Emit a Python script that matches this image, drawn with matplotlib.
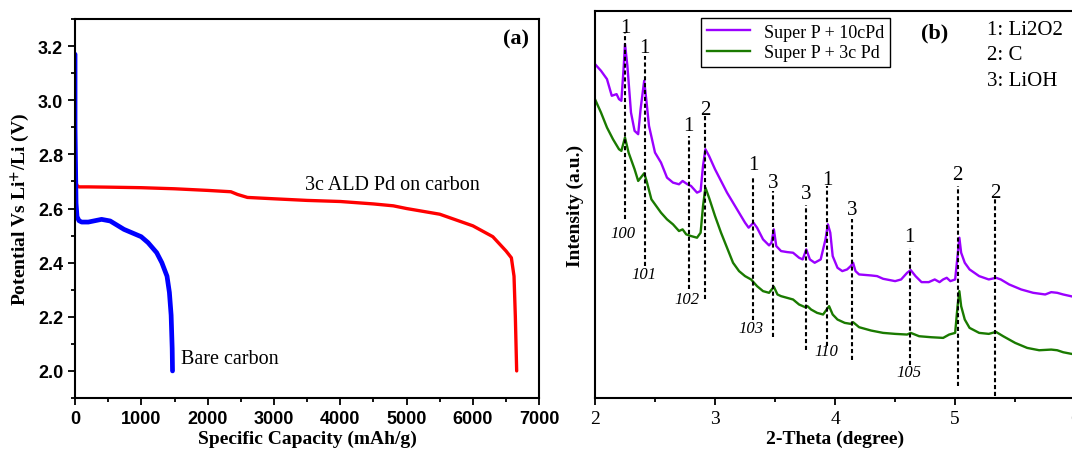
import matplotlib.pyplot as plt
from matplotlib.ticker import MultipleLocator, NullLocator

plt.rcParams['font.family'] = 'Liberation Serif'
plt.rcParams['mathtext.fontset'] = 'stix'

# ---- panel (a): discharge curves ----
pd_cap = [0, 0, 10, 30, 60, 200, 500, 1000, 1500, 2000, 2350, 2450, 2600, 3000,
          3500, 4000, 4500, 4800, 5000, 5500, 6000, 6300, 6500, 6580, 6620, 6640,
          6650, 6660]
pd_volt = [3.02, 2.85, 2.70, 2.685, 2.68, 2.68, 2.679, 2.677, 2.673, 2.667, 2.662,
           2.652, 2.641, 2.636, 2.63, 2.626, 2.617, 2.61, 2.6, 2.579, 2.536, 2.496,
           2.443, 2.418, 2.35, 2.2, 2.1, 2.0]

bare_cap = [0, 0, 15, 30, 60, 100, 200, 300, 400, 530, 738, 997, 1101, 1231, 1309,
            1387, 1423, 1449, 1465, 1470]
bare_volt = [3.17, 2.9, 2.62, 2.57, 2.555, 2.55, 2.55, 2.555, 2.56, 2.554, 2.523,
             2.496, 2.474, 2.437, 2.4, 2.35, 2.29, 2.206, 2.083, 2.0]

# ---- panel (b): XRD ----
theta = [2.00, 2.05, 2.10, 2.14, 2.18, 2.20, 2.22, 2.24, 2.25, 2.27, 2.30, 2.33, 2.36,
         2.38, 2.41, 2.43, 2.45, 2.50, 2.55, 2.60, 2.65, 2.70, 2.73, 2.77, 2.80, 2.85,
         2.88, 2.90, 2.92, 2.95, 3.00, 3.05, 3.10, 3.15, 3.20, 3.25, 3.28, 3.32, 3.35,
         3.40, 3.45, 3.47, 3.49, 3.51, 3.55, 3.60, 3.65, 3.70, 3.73, 3.76, 3.79, 3.83,
         3.88, 3.92, 3.94, 3.96, 3.98, 4.02, 4.06, 4.10, 4.13, 4.15, 4.17, 4.20, 4.30,
         4.35, 4.40, 4.50, 4.55, 4.60, 4.63, 4.67, 4.72, 4.78, 4.83, 4.87, 4.90, 4.93,
         4.96, 5.00, 5.02, 5.035, 5.05, 5.08, 5.12, 5.20, 5.28, 5.34, 5.38, 5.45, 5.55,
         5.65, 5.75, 5.80, 5.85, 5.90, 6.00]
pd10 = [1000, 980, 955, 905, 910, 895, 890, 995, 1060, 995, 855, 800, 790, 865, 950,
        885, 815, 735, 705, 660, 645, 640, 650, 640, 635, 615, 620, 695, 745, 725, 685,
        650, 615, 585, 555, 525, 510, 525, 510, 475, 457, 465, 505, 455, 440, 437, 435,
        420, 415, 445, 415, 405, 415, 475, 520, 495, 425, 390, 380, 385, 395, 405, 380,
        370, 367, 365, 357, 350, 355, 375, 383, 365, 347, 347, 355, 347, 355, 360, 350,
        355, 425, 480, 435, 405, 385, 365, 355, 360, 355, 340, 325, 315, 310, 317, 315,
        310, 302]

theta3 = [2.00, 2.05, 2.10, 2.15, 2.20, 2.22, 2.25, 2.28, 2.33, 2.36, 2.41, 2.43, 2.47,
          2.50, 2.55, 2.60, 2.65, 2.70, 2.73, 2.76, 2.80, 2.85, 2.88, 2.90, 2.92, 2.95,
          3.00, 3.05, 3.10, 3.15, 3.20, 3.25, 3.30, 3.35, 3.40, 3.45, 3.49, 3.52, 3.55,
          3.60, 3.65, 3.70, 3.75, 3.77, 3.80, 3.85, 3.90, 3.92, 3.95, 3.98, 4.02, 4.08,
          4.13, 4.15, 4.20, 4.30, 4.40, 4.50, 4.60, 4.63, 4.70, 4.80, 4.90, 4.95, 5.00,
          5.02, 5.035, 5.05, 5.08, 5.12, 5.20, 5.28, 5.34, 5.40, 5.50, 5.60, 5.70, 5.80,
          5.85, 5.90, 6.00]
pd3 = [895, 855, 810, 775, 745, 740, 780, 735, 685, 650, 673, 650, 595, 580, 555, 535,
       520, 500, 505, 490, 485, 480, 495, 575, 630, 600, 545, 495, 450, 405, 380, 365,
       355, 335, 320, 315, 333, 310, 305, 300, 295, 280, 272, 275, 265, 255, 250, 260,
       275, 250, 235, 225, 222, 227, 212, 202, 195, 192, 190, 195, 185, 182, 180, 190,
       195, 275, 320, 275, 235, 210, 195, 192, 198, 185, 165, 150, 143, 145, 143, 137,
       130]

ref_x = [2.25, 2.414, 2.78, 2.92, 3.32, 3.485, 3.757, 3.935, 4.142, 4.62, 5.02, 5.331]
ref_top = [1095, 1025, 785, 850, 665, 620, 577, 635, 535, 450, 635, 595]
ref_bottom = [535, 395, 325, 295, 235, 183, 145, 155, 115, 100, 35, 7]
ref_phase = ['1', '1', '1', '2', '1', '3', '3', '1', '3', '1', '2', '2']
ref_label_y = [1110, 1050, 817, 865, 698, 646, 612, 655, 565, 485, 670, 615]

hkl_text = ['100', '101', '102', '103', '110', '105']
hkl_x = [2.23, 2.405, 2.765, 3.297, 3.93, 4.615]
hkl_y = [495, 370, 295, 210, 140, 77]

phase_key = ['1: Li2O2', '2: C', '3: LiOH']
phase_key_y = [1105, 1030, 950]

fig = plt.figure(figsize=(10.72, 4.56), dpi=100)
ax1 = fig.add_axes([0.070, 0.125, 0.433, 0.831])
ax2 = fig.add_axes([0.555, 0.125, 0.448, 0.848])

# panel (a)
ax1.plot(pd_cap, pd_volt, color='red', lw=2.4, solid_capstyle='round')
ax1.plot(bare_cap, bare_volt, color='blue', lw=3.4, solid_capstyle='round')
ax1.set_xlim(0, 7000)
ax1.set_ylim(1.9, 3.3)
ax1.xaxis.set_major_locator(MultipleLocator(1000))
ax1.xaxis.set_minor_locator(MultipleLocator(500))
ax1.yaxis.set_major_locator(MultipleLocator(0.2))
ax1.yaxis.set_minor_locator(MultipleLocator(0.1))
ax1.tick_params(which='both', direction='out', width=1.3, top=False, right=False)
ax1.tick_params(which='major', length=5)
ax1.tick_params(which='minor', length=3)
for lab in ax1.get_xticklabels() + ax1.get_yticklabels():
    lab.set_fontfamily('Liberation Sans')
    lab.set_fontweight('bold')
    lab.set_fontsize(13)
ax1.set_yticklabels(['%.1f' % v for v in ax1.get_yticks()])
ax1.set_xlabel('Specific Capacity (mAh/g)', fontsize=14, fontweight='bold', labelpad=2)
ax1.set_ylabel(r'Potential Vs Li$^{\mathbf{+}}$/Li (V)', fontsize=14,
               fontweight='bold', labelpad=4)
ax1.text(3466, 2.69, '3c ALD Pd on carbon', fontsize=14.5, va='center', ha='left')
ax1.text(1595, 2.045, 'Bare carbon', fontsize=14.5, va='center', ha='left')
ax1.text(6840, 3.23, '(a)', fontsize=16, fontweight='bold', va='center', ha='right')

# panel (b)
ax2.plot(theta, pd10, color='#9B00FF', lw=1.7, label='Super P + 10cPd')
ax2.plot(theta3, pd3, color='#1A7A00', lw=1.7, label='Super P + 3c Pd')
for i in range(len(ref_x)):
    ax2.plot([ref_x[i], ref_x[i]], [ref_bottom[i], ref_top[i]], color='black',
             lw=1.5, linestyle=(0, (2, 1.3)))
    ax2.text(ref_x[i], ref_label_y[i], ref_phase[i], fontsize=15, ha='center',
             va='center')
for i in range(len(hkl_text)):
    ax2.text(hkl_x[i], hkl_y[i], hkl_text[i], fontsize=12, style='italic',
             ha='center', va='center')
for i in range(len(phase_key)):
    ax2.text(5.265, phase_key_y[i], phase_key[i], fontsize=15, ha='left', va='center')
ax2.text(4.83, 1095, '(b)', fontsize=16, fontweight='bold', ha='center', va='center')

ax2.set_xlim(2, 6)
ax2.set_ylim(0, 1158)
ax2.xaxis.set_major_locator(MultipleLocator(1))
ax2.xaxis.set_minor_locator(MultipleLocator(0.5))
ax2.yaxis.set_major_locator(NullLocator())
ax2.tick_params(which='both', direction='out', width=1.3, top=False, right=False,
                labelsize=14)
ax2.tick_params(which='major', length=5)
ax2.tick_params(which='minor', length=3)
ax2.set_xlabel('2-Theta (degree)', fontsize=14, fontweight='bold', labelpad=2)
ax2.set_ylabel('Intensity (a.u.)', fontsize=14, fontweight='bold', labelpad=8)
leg = ax2.legend(loc='upper left', bbox_to_anchor=(0.221, 0.982), borderaxespad=0,
                 fontsize=13, handlelength=2.4, fancybox=False, framealpha=1,
                 edgecolor='black', borderpad=0.3, labelspacing=0.2)
leg.get_frame().set_linewidth(1.0)

for ax in (ax1, ax2):
    for sp in ax.spines.values():
        sp.set_linewidth(1.5)

plt.savefig('out.png', dpi=100)
